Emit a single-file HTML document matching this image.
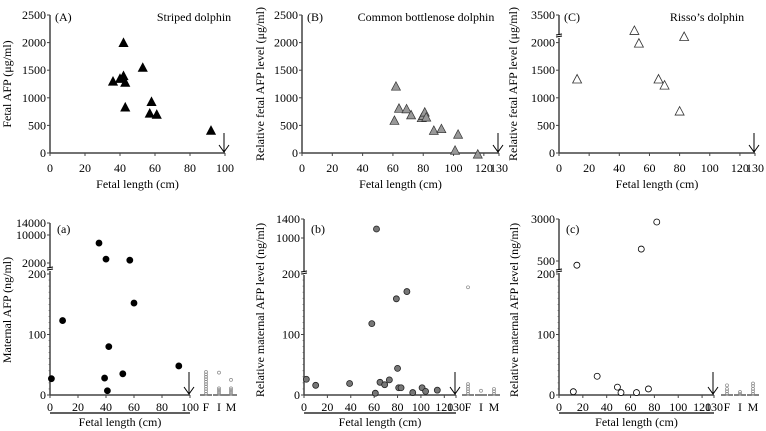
<!DOCTYPE html>
<html><head><meta charset="utf-8">
<style>
body{margin:0;background:#fff;}
svg{display:block;}
svg text{font-family:"Liberation Serif","Times New Roman",serif;}
</style></head>
<body>
<svg id="chart" width="766" height="431" viewBox="0 0 766 431" xmlns="http://www.w3.org/2000/svg" font-family="Liberation Serif, serif"></svg>
<script>
// ---- Data ----
const aLen = [36,40,42,42,43,43,53,58,57,61,92];
const aAfp = [1300,1350,2000,1400,1280,830,1550,930,720,700,410];
const bLen = [61,62,64,69,72,79,80,81,82,87,92,101,103,116];
const bAfp = [590,1210,810,800,690,640,680,740,650,410,440,50,340,-20];
const cLen = [12,50,53,66,70,80,83];
const cAfp = [1340,2220,1990,1340,1230,760,2110];
const aTicksY = [0,500,1000,1500,2000,2500];
const cTicksY = [0,500,1000,1500,2000];
const xTicks100 = [0,20,40,60,80,100];
const xTicks130 = [0,20,40,60,80,100,120,130];

const maLen = [1,9,39,41,42,52,60,92,35,40,57];
const maAfp = [27,123,28,7,80,35,152,48,7700,3100,2800];
const mbLen = [2,10,39,58,61,65,69,73,80,79,81,83,88,93,101,104,114,62];
const mbAfp = [26,16,19,118,3,21,17,25,44,159,12,12,171,4,12,6,8,1190];
const mcLen = [12,32,49,52,65,75,15,69,82];
const mcAfp = [5.5,31,13,4,4,10,250,1210,2820];
const maF=[2,6,10,14,18,22,26,30,34,38], maI=[2,5,8,11,37], maM=[2,5,8,11,25];
const mbF=[2,6,10,14,18,178], mbI=[7], mbM=[2,6,10];
const mcF=[2,6,10,16], mcI=[2,5], mcM=[2,6,10,15,19];
const lowTicks=[0,100,200];

const NS="http://www.w3.org/2000/svg";
const svg=document.getElementById('chart');
function mk(tag,attrs,parent){const e=document.createElementNS(NS,tag);for(const k in attrs)e.setAttribute(k,attrs[k]);(parent||svg).appendChild(e);return e;}
function txt(s,x,y,anchor,size,parent,rot){const t=mk('text',{x:x,y:y,'text-anchor':anchor||'middle','font-size':size||12,fill:'#000','font-family':'Liberation Serif, serif'},parent);if(rot)t.setAttribute('transform','rotate(-90 '+x+' '+y+')');t.textContent=s;return t;}
const AX='#444';

function topPanel(id,x0,x1,xmax,xTicks,ticksY,ymaxPx,lens,vals,fill,label,title,titleX,ylab,ylabX,broken){
  const g=mk('g',{});
  
  
  const y0=153, k=27.6/500;
  const sx=v=>x0+(x1-x0)*v/xmax, sy=v=>y0-v*k;
  if(broken){
    mk('line',{x1:x0,y1:y0,x2:x0,y2:38,stroke:AX,'stroke-width':1.5},g);
    mk('line',{x1:x0,y1:34,x2:x0,y2:15,stroke:AX,'stroke-width':1.5},g);
    mk('line',{x1:x0-3,y1:37,x2:x0+3,y2:36,stroke:'#000'},g);
    mk('line',{x1:x0-3,y1:35,x2:x0+3,y2:34,stroke:'#000'},g);
    mk('line',{x1:x0-3,y1:15,x2:x0,y2:15,stroke:AX},g);
    txt('3500',x0-4,19,'end',12,g);
  } else mk('line',{x1:x0,y1:y0,x2:x0,y2:15,stroke:AX,'stroke-width':1.5},g);
  mk('line',{x1:x0,y1:y0,x2:x1,y2:y0,stroke:AX,'stroke-width':1.5},g);
  ticksY.forEach(v=>{mk('line',{x1:x0-3,y1:sy(v),x2:x0,y2:sy(v),stroke:AX},g);txt(String(v),x0-4,sy(v)+4,'end',12,g);});
  xTicks.forEach(v=>{mk('line',{x1:sx(v),y1:y0,x2:sx(v),y2:y0+3,stroke:AX},g);txt(String(v),sx(v),y0+19,'middle',12,g);});
  txt('Fetal length (cm)',(x0+x1)/2,y0+35,'middle',12,g);
  txt(ylab,ylabX,84,'middle',12,g,true);
  txt(label,x0+5,21,'start',12,g);
  txt(title,titleX,21,'middle',12,g);
  const ax=x1-1;
  mk('line',{x1:ax,y1:133,x2:ax,y2:152,stroke:'#000'},g);
  mk('polyline',{points:(ax-5)+',145 '+ax+',152 '+(ax+5)+',145',fill:'none',stroke:'#000'},g);
  lens.forEach((L,i)=>{const cx=sx(L),cy=sy(vals[i]);
    const p=mk('polygon',{points:(cx-4.5)+','+(cy+4)+' '+(cx+4.5)+','+(cy+4)+' '+cx+','+(cy-4.5),fill:fill,stroke:fill==='#000'?'#000':'#333','stroke-width':fill==='none'?0.8:0.7},g);
    
    
  });
}

topPanel('panel-A-striped',50,225,100,xTicks100,aTicksY,15,aLen,aAfp,'#000','(A)','Striped dolphin',194,'Fetal AFP (μg/ml)',11,false);
topPanel('panel-B-bottlenose',302,499,130,xTicks130,aTicksY,15,bLen,bAfp,'#999','(B)','Common bottlenose dolphin',426,'Relative fetal AFP level (μg/ml)',264,false);
topPanel('panel-C-risso',559,755,130,xTicks130,cTicksY,15,cLen,cAfp,'none','(C)',"Risso’s dolphin",707,'Relative fetal AFP level (μg/ml)',517,true);

function botPanel(id,x0,x1,xmax,xTicks,upperTicks,upperPx,breakY,lens,vals,style,label,ylab,ylabX,F,I,M,catX){
  const g=mk('g',{});
  
  
  const y0=395, k=60.5/100;
  const sx=v=>x0+(x1-x0)*v/xmax;
  const sy=v=>{ if(v<=200) return y0-v*k;
    for(let i=0;i<upperTicks.length-1;i++){ if(v<=upperTicks[i+1]||i===upperTicks.length-2){const a=upperTicks[i],b=upperTicks[i+1],pa=upperPx[i],pb=upperPx[i+1];return pa+(pb-pa)*(v-a)/(b-a);} }
  };
  mk('line',{x1:x0,y1:y0,x2:x0,y2:breakY+3,stroke:AX,'stroke-width':1.5},g);
  mk('line',{x1:x0,y1:breakY-1,x2:x0,y2:upperPx[upperPx.length-1],stroke:AX,'stroke-width':1.5},g);
  mk('line',{x1:x0-3,y1:breakY+2,x2:x0+3,y2:breakY+1,stroke:'#000'},g);
  mk('line',{x1:x0-3,y1:breakY,x2:x0+3,y2:breakY-1,stroke:'#000'},g);
  mk('line',{x1:x0,y1:y0,x2:x1,y2:y0,stroke:AX,'stroke-width':1.5},g);
  lowTicks.forEach(v=>{mk('line',{x1:x0-3,y1:y0-v*k,x2:x0,y2:y0-v*k,stroke:AX},g);txt(String(v),x0-4,y0-v*k+4,'end',12,g);});
  for(let v=10;v<200;v+=10){if(v%100)mk('line',{x1:x0-1.5,y1:y0-v*k,x2:x0,y2:y0-v*k,stroke:AX,'stroke-width':0.5},g);}
  upperTicks.forEach((v,i)=>{mk('line',{x1:x0-3,y1:upperPx[i],x2:x0,y2:upperPx[i],stroke:AX},g);txt(String(v),x0-4,upperPx[i]+4,'end',12,g);});
  xTicks.forEach(v=>{mk('line',{x1:sx(v),y1:y0,x2:sx(v),y2:y0+3,stroke:AX},g);txt(String(v),sx(v),y0+16,'middle',12,g);});
  mk('line',{x1:x0,y1:413,x2:x1,y2:413,stroke:'#000','stroke-width':1.2},g);
  txt('Fetal length (cm)',(x0+x1)/2,426,'middle',12,g);
  txt(ylab,ylabX,310,'middle',12,g,true);
  txt(label,x0+7,233,'start',12,g);
  const ax=x1-1;
  mk('line',{x1:ax,y1:372,x2:ax,y2:394,stroke:'#000'},g);
  mk('polyline',{points:(ax-5)+',387 '+ax+',394 '+(ax+5)+',387',fill:'none',stroke:'#000'},g);
  lens.forEach((L,i)=>{const c=mk('circle',{cx:sx(L),cy:sy(vals[i]),r:3,fill:style.fill,stroke:style.stroke,'stroke-width':0.8},g);
    
    });
  const cats=[['F',F],['I',I],['M',M]];
  cats.forEach((c,j)=>{const cx=catX[j];
    mk('line',{x1:cx-6,y1:y0,x2:cx+6,y2:y0,stroke:'#333','stroke-width':1.2},g);
    c[1].forEach(v=>{const d=mk('circle',{cx:cx,cy:sy(v),r:1.5,fill:'none',stroke:'#888','stroke-width':0.7},g);
      
      });
    txt(c[0],cx,y0+16,'middle',12,g);
  });
}
botPanel('panel-a-striped',50,190,100,xTicks100,[2000,10000,14000],[263,235,223],268,maLen,maAfp,{fill:'#000',stroke:'#000'},'(a)','Maternal AFP (ng/ml)',11,maF,maI,maM,[206,219,231]);
botPanel('panel-b-bottlenose',304,456,130,xTicks130,[1000,1400],[238,219],272,mbLen,mbAfp,{fill:'#777',stroke:'#222'},'(b)','Relative maternal AFP level (ng/ml)',264,mbF,mbI,mbM,[468,481,494]);
botPanel('panel-c-risso',559,714,130,xTicks130,[500,3000],[261,219],270,mcLen,mcAfp,{fill:'#fff',stroke:'#000'},'(c)','Relative maternal AFP level (ng/ml)',518,mcF,mcI,mcM,[727,740,753]);
</script>
</body></html>
